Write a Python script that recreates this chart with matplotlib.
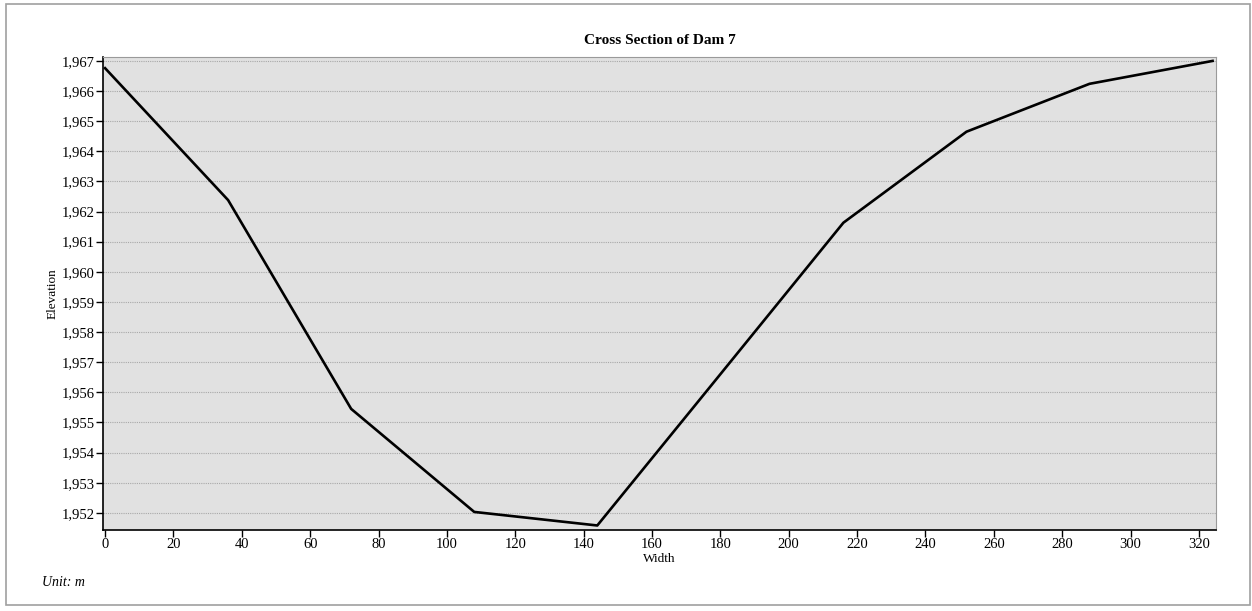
import matplotlib.pyplot as plt
from matplotlib.patches import Rectangle
from matplotlib.ticker import FuncFormatter

width = [0, 36, 72, 108, 144, 180, 216, 252, 288, 324]
elevation = [1966.76, 1962.38, 1955.45, 1952.03, 1951.58, 1956.6, 1961.63, 1964.65, 1966.24, 1967.0]
x_ticks = list(range(0, 321, 20))
y_ticks = list(range(1952, 1968))

plt.rcParams['font.family'] = ['Liberation Serif', 'DejaVu Serif']

fig = plt.figure(figsize=(12.52, 6.11), dpi=100)
fig.patches.append(Rectangle((6 / 1252, 6 / 611), 1244 / 1252, 601 / 611,
                             transform=fig.transFigure, fill=False,
                             edgecolor='#a0a0a0', linewidth=1.2))

ax = fig.add_axes([103 / 1252, 1 - 530 / 611, (1216 - 103) / 1252, (530 - 57) / 611])
ax.set_facecolor('#e1e1e1')
ax.plot(width, elevation, color='black', linewidth=1.9)

ax.set_xlim(-0.6, 325)
ax.set_ylim(1951.43, 1967.13)
ax.set_xticks(x_ticks)
ax.set_yticks(y_ticks)
ax.yaxis.set_major_formatter(FuncFormatter(lambda v, p: f"{int(v):,}"))
ax.grid(axis='y', color='#a8a8a8', linestyle=(0, (1, 1)), linewidth=0.8)
ax.set_axisbelow(True)
ax.tick_params(direction='out', length=5, width=1, labelsize=10.5, pad=1, colors='black')

for s in ['top', 'right']:
    ax.spines[s].set_color('#9a9a9a')
for s in ['left', 'bottom']:
    ax.spines[s].set_color('black')
    ax.spines[s].set_linewidth(1.2)

ax.set_title("Cross Section of Dam 7", fontsize=11, fontweight='bold', pad=9)
ax.set_xlabel("Width", fontsize=9.5, labelpad=1)
ax.set_ylabel("Elevation", fontsize=9.5, labelpad=2)
fig.text(42 / 1252, 1 - 583 / 611, "Unit: m", fontsize=10, style='italic', va='center')

fig.savefig('out.png', dpi=100)
